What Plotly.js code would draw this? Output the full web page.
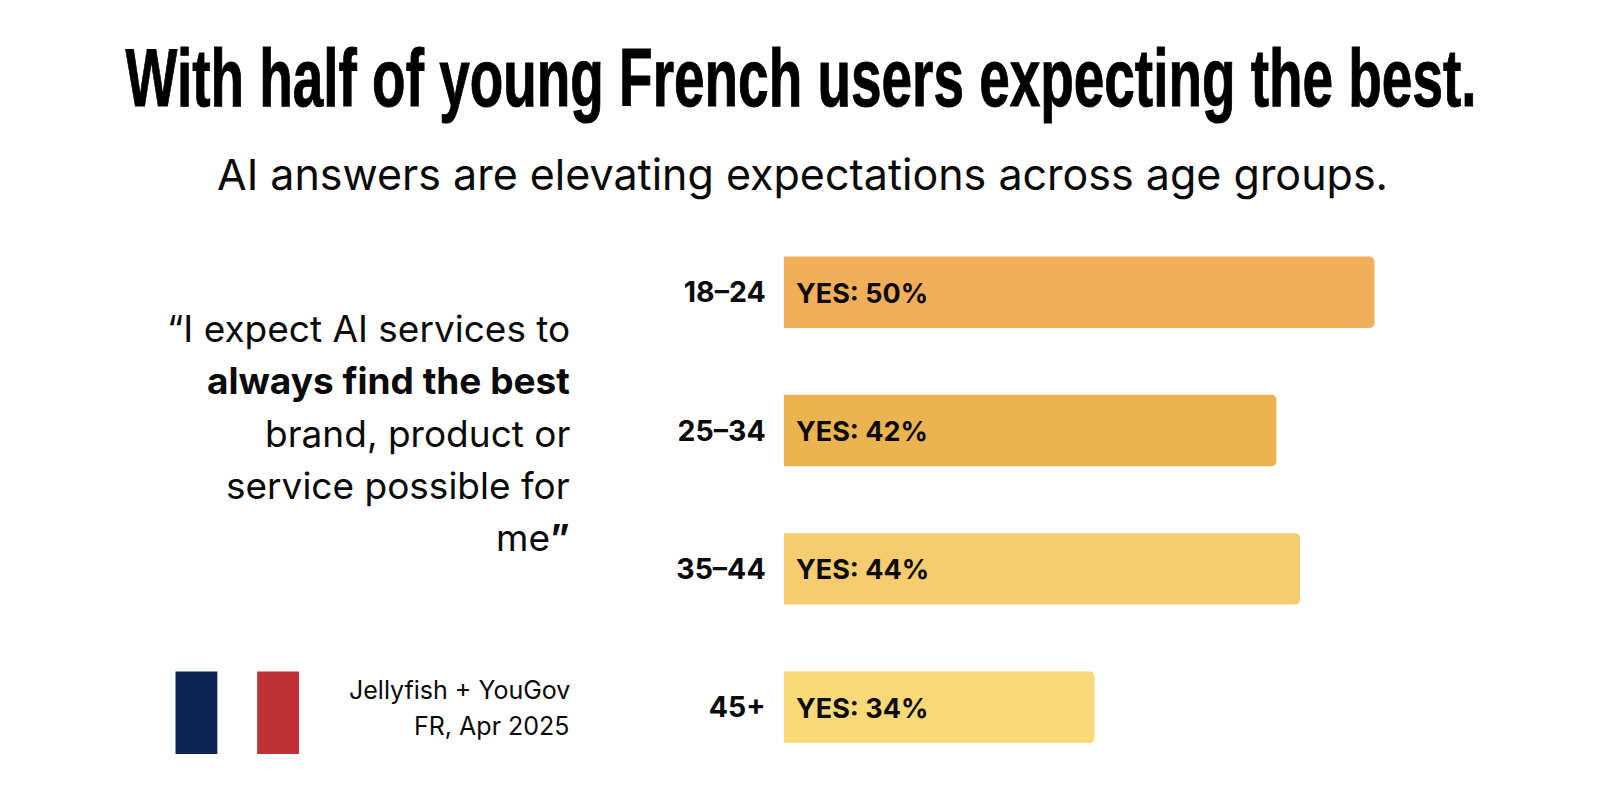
<!DOCTYPE html>
<html>
<head>
<meta charset="utf-8">
<script src="https://cdn.plot.ly/plotly-3.0.1.min.js"></script>
<style>html,body{margin:0;padding:0;background:#fff}#chart{width:1600px;height:805px}</style>
</head>
<body>
<div id="chart"></div>
<script>
const ageGroups = ["18–24", "25–34", "35–44", "45+"];
const barLengths = [50, 41.7, 43.7, 26.3];
const barLabels = ["YES: 50%", "YES: 42%", "YES: 44%", "YES: 34%"];
const barColors = ["#F2AF5A", "#ECB351", "#F5CC6E", "#F9D978"];
const titleText = "With half of young French users expecting the best.";
const subtitleText = "AI answers are elevating expectations across age groups.";
const quoteLines = ["“I expect AI services to", "<b>always find the best</b>", "brand, product or", "service possible for", "me<b>”</b>"];
const quoteCentres = [322, 373, 425, 476, 527];
const sourceLines = ["Jellyfish + YouGov", "FR, Apr 2025"];
const sourceCentres = [676, 711];

const W = 1600, H = 805, k = 1600 / 1568;
const px = v => v * k / W;
const py = v => 1 - v * k / H;
const bodyFont = "Inter, 'Noto Sans', sans-serif";

const note = (text, x, y, size, anchor, color) => ({
  text, x: px(x), y: py(y), xref: "paper", yref: "paper",
  xanchor: anchor, yanchor: "middle", showarrow: false,
  font: {family: bodyFont, size, color: color || "#0a0a0a"}
});

const annotations = [
  note(subtitleText, 786.5, 171, 43, "center"),
  ...quoteLines.map((t, i) => note(t, 561, quoteCentres[i], 37, "right")),
  ...sourceLines.map((t, i) => note(t, 561, sourceCentres[i], 25, "right")),
  ...barLabels.map((t, i) => ({
    text: "<b>" + t + "</b>", x: 0, y: ageGroups[i], xref: "x", yref: "y",
    xanchor: "left", yanchor: "middle", xshift: 10, yshift: -1, showarrow: false,
    font: {family: bodyFont, size: 27, color: "#0a0a0a"}
  }))
];

const flag = (x0, x1, color) => ({
  type: "rect", xref: "paper", yref: "paper",
  x0: px(x0), x1: px(x1), y0: py(739), y1: py(658),
  fillcolor: color, line: {width: 0}
});

Plotly.newPlot("chart", [{
  type: "bar", orientation: "h",
  x: barLengths, y: ageGroups,
  marker: {color: barColors, line: {width: 0}},
  hoverinfo: "skip"
}], {
  width: W, height: H,
  margin: {l: 0, r: 0, t: 0, b: 0, pad: 0},
  paper_bgcolor: "#fff", plot_bgcolor: "#fff",
  showlegend: false,
  title: {
    text: titleText, x: px(785), xref: "paper", xanchor: "center",
    y: py(76), yref: "paper", yanchor: "middle",
    font: {family: "'Liberation Sans', sans-serif", size: 81, weight: 700, color: "#000"}
  },
  bargap: 0.483, barcornerradius: 5,
  xaxis: {domain: [px(768), 1], range: [0, 800 / 579 * 50], visible: false, fixedrange: true},
  yaxis: {
    domain: [py(760.75), py(218.75)], type: "category", autorange: false, range: [3.5, -0.5],
    showgrid: false, showline: false, zeroline: false, ticks: "", ticklabelstandoff: 17,
    tickfont: {family: bodyFont, size: 28.5, weight: 700, color: "#0a0a0a"}, fixedrange: true
  },
  annotations,
  shapes: [flag(172, 213, "#0D2554"), flag(252, 293, "#BD3034")]
}, {displayModeBar: false, staticPlot: true}).then(gd => {
  const t = gd.querySelector(".gtitle");
  if (t) {
    const box = t.getBBox();
    const cx = box.x + box.width / 2;
    const sx = 1324 * k / box.width;
    t.setAttribute("transform", `translate(${cx} 0) scale(${sx} 1) translate(${-cx} 0)`);
    t.style.stroke = "#000";
    t.style.strokeWidth = "1px";
  }
});
</script>
</body>
</html>
